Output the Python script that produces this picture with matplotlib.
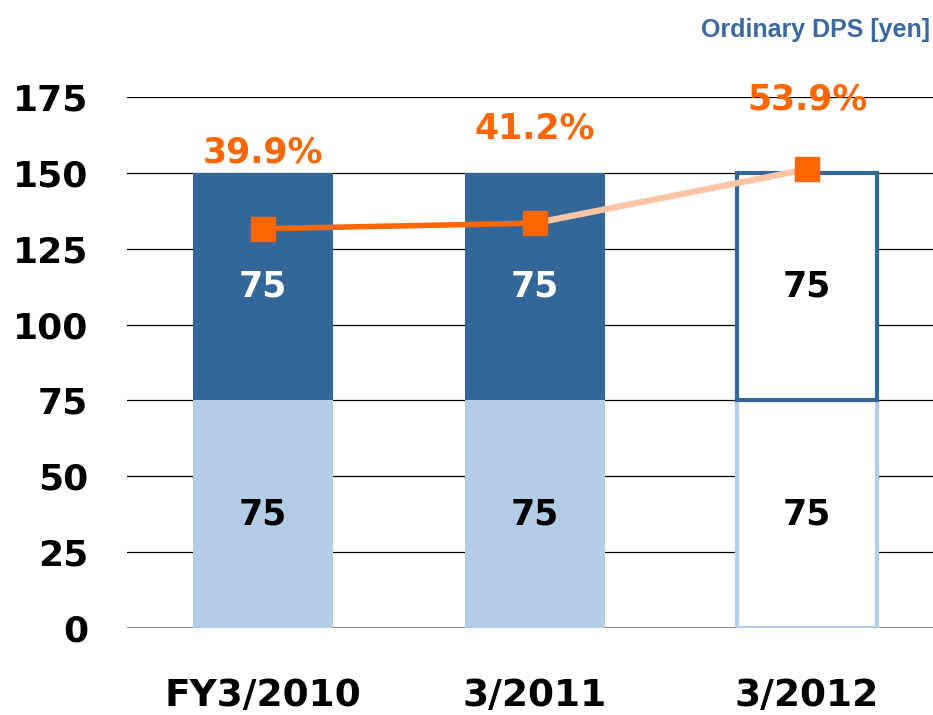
import matplotlib
matplotlib.use("Agg")
import matplotlib.pyplot as plt

# data
categories = ["FY3/2010", "3/2011", "3/2012"]
interim_dps = [75, 75, 75]
year_end_dps = [75, 75, 75]
payout_ratio = [39.9, 41.2, 53.9]
forecast = [False, False, True]
yticks = [0, 25, 50, 75, 100, 125, 150, 175]

dark_blue = "#336699"
light_blue = "#B3CDE6"
orange = "#FF6600"
pale_orange = "#FAC5A4"

plt.rcParams["font.family"] = ["DejaVu Sans"]
plt.rcParams["font.weight"] = "bold"

fig = plt.figure(figsize=(9.33, 7.15), dpi=100)
ax = fig.add_axes([127 / 933, 87 / 715, 806 / 933, 531 / 715])
ax.set_xlim(-0.5, 2.463)
ax.set_ylim(0, 175)

x = list(range(len(categories)))
w = 0.515

# gridlines
for t in yticks:
    ax.axhline(t, color="#777777" if t == 0 else "black", lw=1.3 if t == 0 else 0.9, zorder=0)

for i in x:
    if forecast[i]:
        ax.bar(i, interim_dps[i], w, facecolor="white", edgecolor=light_blue, lw=3, zorder=2)
        ax.bar(i, year_end_dps[i], w, bottom=interim_dps[i], facecolor="white",
               edgecolor=dark_blue, lw=3, zorder=3)
        c1, c2 = "black", "black"
    else:
        ax.bar(i, interim_dps[i], w, color=light_blue, zorder=2)
        ax.bar(i, year_end_dps[i], w, bottom=interim_dps[i], color=dark_blue, zorder=3)
        c1, c2 = "black", "white"
    ax.text(i, interim_dps[i] / 2, str(interim_dps[i]), ha="center", va="center",
            fontsize=25, fontweight="bold", color=c1, zorder=5)
    ax.text(i, interim_dps[i] + year_end_dps[i] / 2, str(year_end_dps[i]), ha="center",
            va="center", fontsize=25, fontweight="bold", color=c2, zorder=5)

# payout ratio on secondary scale
ax2 = ax.twinx()
ax2.set_ylim(-54.1, 70.9)
ax2.axis("off")
actual = [i for i in x if not forecast[i]]
ax2.plot(actual, [payout_ratio[i] for i in actual], color=orange, lw=4, zorder=4)
ax2.plot([actual[-1], x[-1]], [payout_ratio[actual[-1]], payout_ratio[-1]],
         color=pale_orange, lw=4.5, zorder=4)
ax2.plot(x, payout_ratio, ls="none", marker="s", ms=17, color=orange, zorder=6)
label_offsets = [55, 68, 50]
for i in x:
    ax2.annotate(f"{payout_ratio[i]}%", (i, payout_ratio[i]), xytext=(0, label_offsets[i]),
                 textcoords="offset points", ha="center", va="center", fontsize=25,
                 fontweight="bold", color=orange)

ax.set_xticks(x)
ax.set_xticklabels(categories, fontsize=27, fontweight="bold")
ax.set_yticks(yticks)
ax.set_yticklabels([str(t) for t in yticks], fontsize=26, fontweight="bold")
ax.tick_params(length=0)
ax.tick_params(axis="x", pad=36)
ax.tick_params(axis="y", pad=28)
for s in ax.spines.values():
    s.set_visible(False)

fig.text(0.997, 0.958, "Ordinary DPS [yen]", ha="right", va="center", fontsize=18,
         fontweight="bold", color="#3A68A0",
         family=["Liberation Sans Narrow", "Liberation Sans", "DejaVu Sans"])

fig.savefig("out.png", dpi=100)
